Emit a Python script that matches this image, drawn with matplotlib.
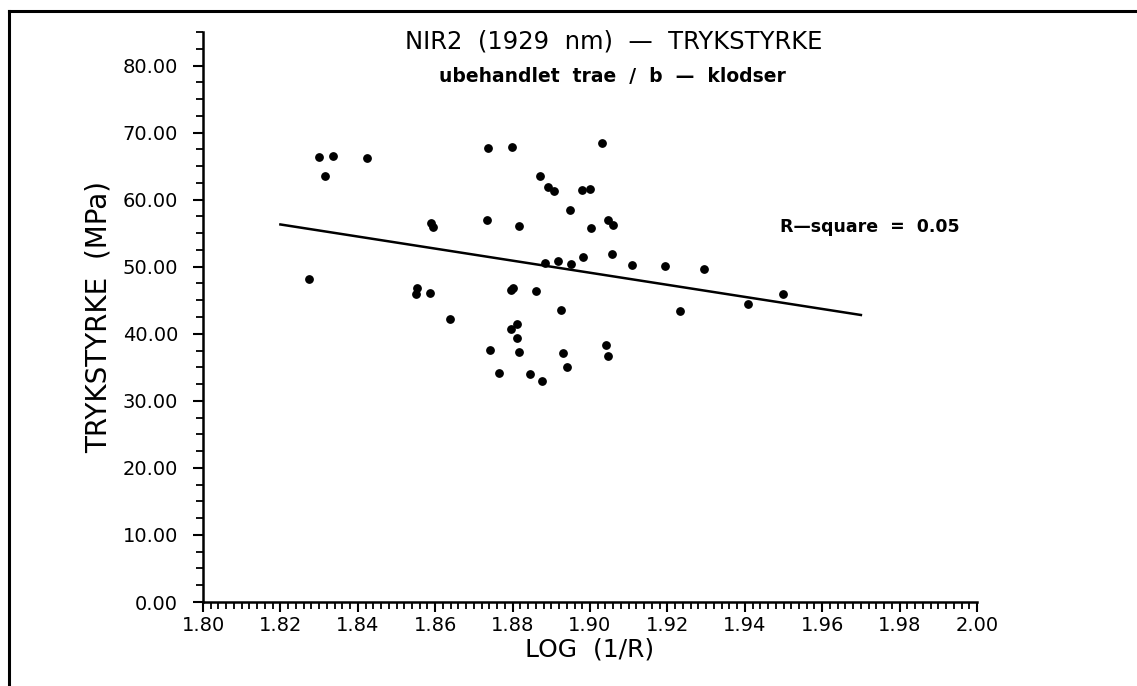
import matplotlib.pyplot as plt
from matplotlib.lines import Line2D
from matplotlib.ticker import MultipleLocator, FormatStrFormatter

# NIR2 absorbans (log 1/R) mod trykstyrke
log_r = [1.8273, 1.8299, 1.8336, 1.8315, 1.8425, 1.8553, 1.8550, 1.8587,
         1.8590, 1.8594, 1.8638, 1.8736, 1.8734, 1.8742, 1.8766, 1.8798,
         1.8797, 1.8802, 1.8811, 1.8795, 1.8811, 1.8817, 1.8817, 1.8846,
         1.8860, 1.8875, 1.8871, 1.8892, 1.8907, 1.8885, 1.8917, 1.8926,
         1.8931, 1.8941, 1.8948, 1.8950, 1.8979, 1.9000, 1.8983, 1.9002,
         1.9031, 1.9042, 1.9047, 1.9046, 1.9059, 1.9056, 1.9108, 1.9193,
         1.9232, 1.9295, 1.9408, 1.9498]
styrke = [48.15, 66.39, 66.50, 63.60, 66.24, 46.76, 45.86, 46.06,
          56.57, 55.88, 42.27, 67.63, 56.97, 37.64, 34.14, 67.89,
          46.50, 46.80, 41.42, 40.72, 39.33, 37.34, 56.03, 34.05,
          46.36, 32.94, 63.51, 61.95, 61.35, 50.50, 50.80, 43.51,
          37.19, 35.04, 58.42, 50.45, 61.41, 61.56, 51.39, 55.78,
          68.49, 38.28, 36.68, 56.97, 56.27, 51.89, 50.20, 50.14,
          43.41, 49.69, 44.46, 45.91]

# regressionslinje
fit_x = [1.82, 1.97]
fit_y = [56.3, 42.8]
r_square = 0.05

plt.rcParams['font.family'] = 'DejaVu Sans'

fig = plt.figure(figsize=(11.37, 6.86), dpi=100)
ax = fig.add_axes([203 / 1137, 1 - 602 / 686, (977 - 203) / 1137, (602 - 32) / 686])

ax.scatter(log_r, styrke, s=28, color='black', zorder=3)
ax.plot(fit_x, fit_y, color='black', lw=1.8)

ax.set_xlim(1.80, 2.00)
ax.set_ylim(0, 85)
ax.xaxis.set_major_locator(MultipleLocator(0.02))
ax.xaxis.set_minor_locator(MultipleLocator(0.002))
ax.yaxis.set_major_locator(MultipleLocator(10))
ax.yaxis.set_minor_locator(MultipleLocator(2.5))
ax.xaxis.set_major_formatter(FormatStrFormatter('%.2f'))
ax.yaxis.set_major_formatter(FormatStrFormatter('%.2f'))

for side in ['top', 'right']:
    ax.spines[side].set_visible(False)
for side in ['left', 'bottom']:
    ax.spines[side].set_linewidth(1.8)

ax.tick_params(axis='both', which='major', direction='out', length=7, width=1.5,
               labelsize=14, color='black')
ax.tick_params(axis='both', which='minor', direction='out', length=5, width=1.3)
ax.tick_params(axis='y', which='major', pad=11)
ax.tick_params(axis='x', which='major', pad=3)

ax.set_xlabel('LOG  (1/R)', fontsize=18, labelpad=2)
ax.set_ylabel('TRYKSTYRKE  (MPa)', fontsize=20, labelpad=7)

fig.text(614 / 1137, 1 - 42 / 686, 'NIR2  (1929  nm)  —  TRYKSTYRKE',
         fontsize=17.5, ha='center', va='center')
fig.text(612 / 1137, 1 - 77 / 686, 'ubehandlet  trae  /  b  —  klodser',
         fontsize=13.5, fontweight='bold', ha='center', va='center')
fig.text(870 / 1137, 1 - 227 / 686, f'R\u2014square  =  {r_square:.2f}',
         fontsize=12.5, fontweight='bold', ha='center', va='center')

# ramme om figuren (venstre og top)
fig.add_artist(Line2D([9 / 1137, 9 / 1137], [0, 1 - 11 / 686], color='black', lw=2.2))
fig.add_artist(Line2D([9 / 1137, 1], [1 - 11 / 686, 1 - 11 / 686], color='black', lw=2.2))

fig.savefig('out.png', dpi=100)
